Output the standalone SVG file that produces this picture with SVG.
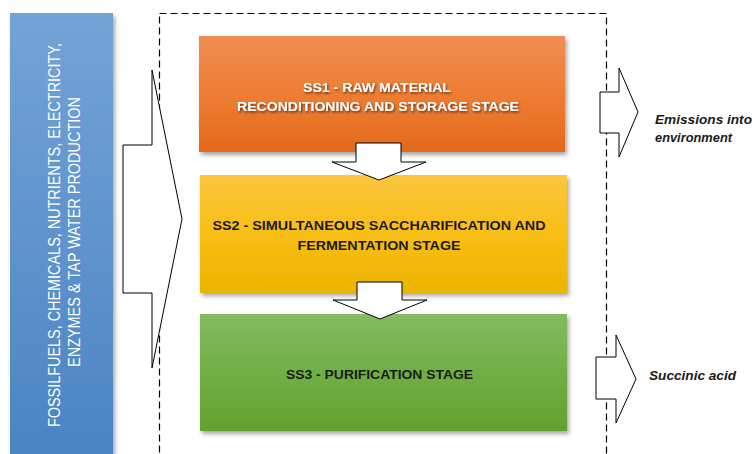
<svg xmlns="http://www.w3.org/2000/svg" width="756" height="454" viewBox="0 0 756 454">
<defs>
<linearGradient id="gBlue" x1="0" y1="0" x2="0" y2="1"><stop offset="0" stop-color="#74A3D6"/><stop offset="1" stop-color="#4A84C4"/></linearGradient>
<linearGradient id="gOrange" x1="0" y1="0" x2="0" y2="1"><stop offset="0" stop-color="#F08D55"/><stop offset="0.5" stop-color="#EE7D32"/><stop offset="1" stop-color="#E26A1C"/></linearGradient>
<linearGradient id="gYellow" x1="0" y1="0" x2="0" y2="1"><stop offset="0" stop-color="#FCC63F"/><stop offset="0.5" stop-color="#F8BE15"/><stop offset="1" stop-color="#EBB400"/></linearGradient>
<linearGradient id="gGreen" x1="0" y1="0" x2="0" y2="1"><stop offset="0" stop-color="#84BA62"/><stop offset="0.5" stop-color="#70AF45"/><stop offset="1" stop-color="#62A030"/></linearGradient>
<filter id="shadow" x="-5%" y="-10%" width="115%" height="130%"><feDropShadow dx="2" dy="3" stdDeviation="2" flood-color="#000" flood-opacity="0.35"/></filter>
<filter id="tshadow" x="-5%" y="-30%" width="110%" height="160%"><feDropShadow dx="1" dy="1.5" stdDeviation="1" flood-color="#000" flood-opacity="0.6"/></filter>
</defs>
<style>
.arrow{fill:#fff;stroke:#000;stroke-width:1}
.dash{fill:none;stroke:#000;stroke-width:1.2;stroke-dasharray:7,4}
.stage{font-family:"Liberation Sans",Arial,sans-serif;font-weight:bold;font-size:12.5px;text-anchor:middle}
.white{fill:#fff}
.dark{fill:#1a1a1a}
.out{font-family:"Liberation Sans",Arial,sans-serif;font-weight:bold;font-style:italic;font-size:13px;fill:#1a1a1a}
.inp{font-family:"Liberation Sans",Arial,sans-serif;font-size:16px;fill:#fff;text-anchor:middle}
</style>
<rect width="756" height="454" fill="#fff"/>
<g id="inputs">
<rect x="10" y="13" width="103" height="445" fill="url(#gBlue)" filter="url(#shadow)"/>
<text class="inp" transform="translate(60,235) rotate(-90)" textLength="384" lengthAdjust="spacingAndGlyphs">FOSSILFUELS, CHEMICALS, NUTRIENTS, ELECTRICITY,</text>
<text class="inp" transform="translate(80,232) rotate(-90)" textLength="270" lengthAdjust="spacingAndGlyphs">ENZYMES &amp; TAP WATER PRODUCTION</text>
</g>
<g id="boundary">
<rect class="dash" x="159.5" y="13.5" width="447" height="460"/>
</g>
<g id="ss1">
<rect x="199" y="36" width="366" height="116" fill="url(#gOrange)" filter="url(#shadow)"/>
<g filter="url(#tshadow)">
<text class="stage white" x="377" y="91.5" textLength="148" lengthAdjust="spacingAndGlyphs">SS1 - RAW  MATERIAL</text>
<text class="stage white" x="378" y="110.5" textLength="282" lengthAdjust="spacingAndGlyphs">RECONDITIONING  AND STORAGE  STAGE</text>
</g>
</g>
<g id="ss2">
<rect x="200" y="175" width="367" height="118" fill="url(#gYellow)" filter="url(#shadow)"/>
<text class="stage dark" x="379" y="229.5" textLength="333" lengthAdjust="spacingAndGlyphs">SS2 - SIMULTANEOUS  SACCHARIFICATION  AND</text>
<text class="stage dark" x="379" y="249.5" textLength="163" lengthAdjust="spacingAndGlyphs">FERMENTATION  STAGE</text>
</g>
<g id="ss3">
<rect x="200" y="314" width="367" height="117" fill="url(#gGreen)" filter="url(#shadow)"/>
<text class="stage dark" x="379.5" y="378.5" textLength="187" lengthAdjust="spacingAndGlyphs">SS3 - PURIFICATION  STAGE</text>
</g>
<g id="outputs">
<text class="out" x="655" y="123.5" textLength="97" lengthAdjust="spacingAndGlyphs">Emissions  into</text>
<text class="out" x="655" y="142" textLength="77" lengthAdjust="spacingAndGlyphs">environment</text>
<text class="out" x="649" y="379.5" textLength="87" lengthAdjust="spacingAndGlyphs">Succinic  acid</text>
</g>
<g id="connectors">
<polygon class="arrow" points="123,145 152,145 152,70 182,219 152,368 152,293 123,293"/>
<polygon class="arrow" points="356,143 401,143 401,162 426,162 379,180 332,162 356,162"/>
<polygon class="arrow" points="357,282 402,282 402,300 427,300 380,319 333,300 357,300"/>
<polygon class="arrow" points="600,92 619,92 619,68 638,112 619,157 619,133 600,133"/>
<polygon class="arrow" points="596,357 616,357 616,335 636,379 616,423 616,399 596,399"/>
</g>
</svg>
